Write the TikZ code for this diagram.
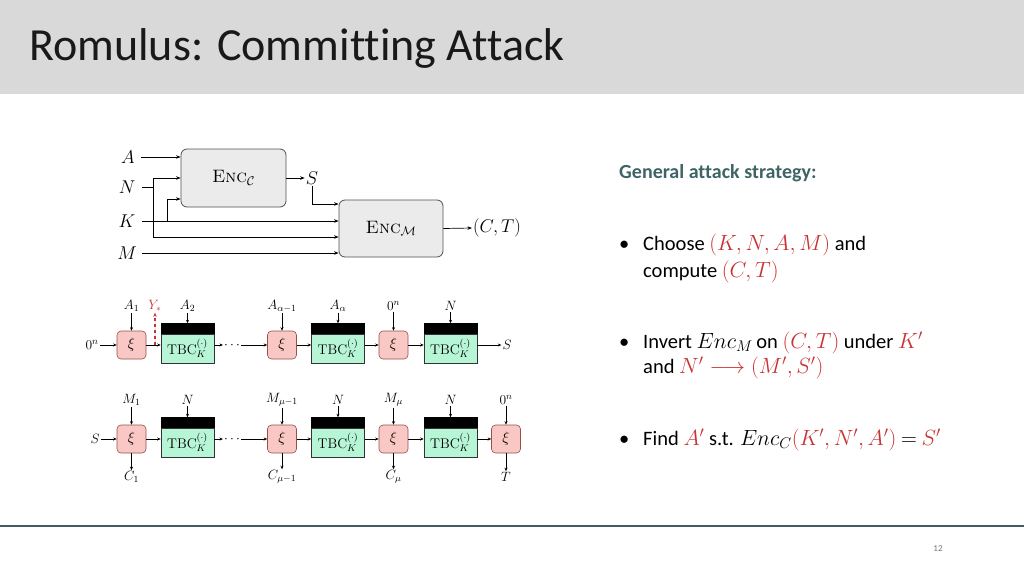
\RequirePackage{fix-cm}
\documentclass[tikz,border=0pt]{standalone}
\usepackage{fontspec}
\newfontfamily\calfont[Ligatures=NoCommon]{Carlito}
\usetikzlibrary{arrows.meta}
\definecolor{titlebg}{RGB}{217,217,217}
\definecolor{encfill}{RGB}{235,235,235}
\definecolor{encdraw}{RGB}{80,80,80}
\definecolor{xifill}{RGB}{249,200,196}
\definecolor{xidraw}{RGB}{150,80,80}
\definecolor{tbcfill}{RGB}{182,245,214}
\definecolor{headc}{RGB}{62,100,102}
\definecolor{mred}{RGB}{200,50,50}
\definecolor{footc}{RGB}{70,90,100}
\newcommand\mm[1]{{\fontsize{22}{24}\selectfont\smash{$#1$}}}
\begin{document}
\begin{tikzpicture}[x=1pt,y=-1pt,
  arr/.style={-{Stealth[length=4.5pt,width=3.5pt]},line width=0.7pt},
  carr/.style={-{Stealth[length=3.5pt,width=3pt]},line width=0.6pt},
  enc/.style={draw=encdraw,fill=encfill,rounded corners=6pt,minimum width=105pt,minimum height=58pt,line width=0.8pt,inner sep=0pt,font=\fontsize{18}{20}\selectfont},
  biglab/.style={font=\fontsize{18.5}{20}\selectfont,inner sep=1pt},
  xi/.style={draw=xidraw,fill=xifill,rounded corners=4pt,minimum width=29pt,minimum height=28pt,inner sep=0pt,line width=0.6pt,font=\fontsize{15}{18}\selectfont},
  tbc/.style={draw=black!80,fill=tbcfill,minimum width=53pt,minimum height=29pt,inner sep=0pt,line width=0.6pt,font=\fontsize{14}{17}\selectfont},
  band/.style={draw=black,fill=black,minimum width=53pt,minimum height=10pt,inner sep=0pt,anchor=south},
  clab/.style={font=\fontsize{13.5}{16}\selectfont,inner sep=1pt},
  slide/.style={font=\calfont\fontsize{20.5}{24}\selectfont,anchor=base west,inner sep=0pt}
]
\useasboundingbox (0,0) rectangle (1024,576);
% title bar
\fill[titlebg] (0,0) rectangle (1024,94);
\node[font=\calfont\fontsize{46}{50}\selectfont,anchor=base west,inner sep=0pt,text=black!90] (title) at (29,60) {Romulus: Committing Attack};
% footer
\draw[footc,line width=2.5pt] (0,526) -- (1024,526);
\node[font=\calfont\fontsize{9}{10}\selectfont,text=black!55] (pnum) at (938,549) {12};

% ---------------- top diagram ----------------
\node[enc] (encC) at (233.5,178) {\textsc{Enc}$_{\mathcal{C}}$};
\node[enc,minimum width=104pt,minimum height=57pt] (encM) at (391,228.5) {\textsc{Enc}$_{\mathcal{M}}$};
\node[biglab] (A) at (128,157) {$A$};
\node[biglab] (N) at (127,187) {$N$};
\node[biglab] (K) at (127,221) {$K$};
\node[biglab] (M) at (127,253) {$M$};
\node[biglab] (S) at (312,178) {$S$};
\node[biglab] (CT) at (497,228) {$(C,T)$};
\coordinate (nb) at (153,187);
\coordinate (ntop) at (153,178);
\coordinate (nbot) at (153,237);
\coordinate (kb) at (167,221);
\coordinate (ktop) at (167,199);
\coordinate (sd) at (312,204);
\coordinate (a0) at (141,157);
\coordinate (n0) at (142,187);
\coordinate (k0) at (142,221);
\coordinate (m0) at (142,253);
\draw[arr] (a0) -- (a0 -| encC.west);
\draw[line width=0.7pt] (n0) -- (nb);
\draw[line width=0.7pt] (ntop) -- (nbot);
\draw[arr] (ntop) -- (ntop -| encC.west);
\draw[arr] (nbot) -- (nbot -| encM.west);
\draw[arr] (k0) -- (k0 -| encM.west);
\draw[arr] (kb) -- (ktop) -- (ktop -| encC.west);
\draw[arr] (m0) -- (m0 -| encM.west);
\draw[arr] (encC.east) -- (S.west);
\draw[arr] (S.south) -- (sd) -- (sd -| encM.west);
\draw[arr] (encM.east) -- (CT.west);

% ---------------- chain row 1 ----------------
\node[clab] (in1) at (92,345) {$0^n$};
\node[xi] (x11) at (131.5,345) {$\xi$};
\node[tbc] (t11) at (187.5,348.5) {$\mathrm{TBC}_K^{(\cdot)}$};
\node[band] (b11) at (t11.north) {};
\node[clab] (d1) at (232,345) {$\cdots$};
\node[xi] (x12) at (282,345) {$\xi$};
\node[tbc] (t12) at (338,348.5) {$\mathrm{TBC}_K^{(\cdot)}$};
\node[band] (b12) at (t12.north) {};
\node[xi] (x13) at (393.5,345) {$\xi$};
\node[tbc] (t13) at (450.5,348.5) {$\mathrm{TBC}_K^{(\cdot)}$};
\node[band] (b13) at (t13.north) {};
\node[clab] (out1) at (507,345) {$S$};
\node[clab] (la1) at (131.5,306) {$A_1$};
\node[clab,text=mred] (ys) at (155,306) {$Y_*$};
\node[clab] (la2) at (187.5,306) {$A_2$};
\node[clab] (la3) at (282,306) {$A_{\alpha-1}$};
\node[clab] (la4) at (338,306) {$A_{\alpha}$};
\node[clab] (la5) at (393.5,306) {$0^n$};
\node[clab] (la6) at (450.5,306) {$N$};
\coordinate (yst) at (155,345);
\draw[carr] (in1) -- (x11);
\draw[carr] (x11.east) -- (x11.east -| t11.west);
\draw[carr] (t11.east |- x11.east) -- (d1.west);
\draw[carr] (d1.east) -- (x12.west);
\draw[carr] (x12.east) -- (x12.east -| t12.west);
\draw[carr] (t12.east |- x12.east) -- (x13.west);
\draw[carr] (x13.east) -- (x13.east -| t13.west);
\draw[carr] (t13.east |- x13.east) -- (out1.west);
\draw[carr] (la1) -- (x11);
\draw[carr] (la2) -- (b11.north);
\draw[carr] (la3) -- (x12);
\draw[carr] (la4) -- (b12.north);
\draw[carr] (la5) -- (x13);
\draw[carr] (la6) -- (b13.north);
\draw[-{Stealth[length=4pt,width=3.5pt]},draw=mred,fill=mred,dashed,line width=1.2pt] (yst) -- (ys.south);

% ---------------- chain row 2 ----------------
\node[clab] (in2) at (95,439) {$S$};
\node[xi] (x21) at (131.5,439) {$\xi$};
\node[tbc] (t21) at (187.5,442.5) {$\mathrm{TBC}_K^{(\cdot)}$};
\node[band] (b21) at (t21.north) {};
\node[clab] (d2) at (232,439) {$\cdots$};
\node[xi] (x22) at (282,439) {$\xi$};
\node[tbc] (t22) at (338,442.5) {$\mathrm{TBC}_K^{(\cdot)}$};
\node[band] (b22) at (t22.north) {};
\node[xi] (x23) at (393.5,439) {$\xi$};
\node[tbc] (t23) at (450.5,442.5) {$\mathrm{TBC}_K^{(\cdot)}$};
\node[band] (b23) at (t23.north) {};
\node[xi] (x24) at (506,439) {$\xi$};
\node[clab] (lm1) at (131.5,400) {$M_1$};
\node[clab] (lm2) at (187.5,400) {$N$};
\node[clab] (lm3) at (282,400) {$M_{\mu-1}$};
\node[clab] (lm4) at (338,400) {$N$};
\node[clab] (lm5) at (393.5,400) {$M_{\mu}$};
\node[clab] (lm6) at (450.5,400) {$N$};
\node[clab] (lm7) at (506,400) {$0^n$};
\node[clab] (lc1) at (131.5,477) {$C_1$};
\node[clab] (lc2) at (282,477) {$C_{\mu-1}$};
\node[clab] (lc3) at (393.5,477) {$C_{\mu}$};
\node[clab] (lc4) at (506,477) {$T$};
\draw[carr] (in2) -- (x21);
\draw[carr] (x21.east) -- (x21.east -| t21.west);
\draw[carr] (t21.east |- x21.east) -- (d2.west);
\draw[carr] (d2.east) -- (x22.west);
\draw[carr] (x22.east) -- (x22.east -| t22.west);
\draw[carr] (t22.east |- x22.east) -- (x23.west);
\draw[carr] (x23.east) -- (x23.east -| t23.west);
\draw[carr] (t23.east |- x23.east) -- (x24.west);
\draw[carr] (lm1) -- (x21);
\draw[carr] (lm2) -- (b21.north);
\draw[carr] (lm3) -- (x22);
\draw[carr] (lm4) -- (b22.north);
\draw[carr] (lm5) -- (x23);
\draw[carr] (lm6) -- (b23.north);
\draw[carr] (lm7) -- (x24);
\draw[carr] (x21) -- (lc1);
\draw[carr] (x22) -- (lc2);
\draw[carr] (x23) -- (lc3);
\draw[carr] (x24) -- (lc4);

% ---------------- slide text ----------------
\node[slide,font=\calfont\bfseries\fontsize{20}{24}\selectfont,text=headc] (head) at (619,178) {General attack strategy:};
\node[slide] (bu1) at (619,250) {\textbullet};
\node[slide] (t1a) at (643,250) {Choose \textcolor{mred}{\mm{(K,N,A,M)}} and};
\node[slide] (t1b) at (643,277) {compute \textcolor{mred}{\mm{(C,T)}}};
\node[slide] (bu2) at (619,348) {\textbullet};
\node[slide] (t2a) at (643,348) {Invert \mm{Enc_M\,}on \textcolor{mred}{\mm{(C,T)}} under \textcolor{mred}{\mm{K'}}};
\node[slide] (t2b) at (643,373) {and \textcolor{mred}{\mm{N'\longrightarrow(M',S')}}};
\node[slide] (bu3) at (619,445) {\textbullet};
\node[slide] (t3a) at (643,445) {Find \textcolor{mred}{\mm{A'}} s.t. \mm{Enc_C}\textcolor{mred}{\mm{(K',N',A')}} \mm{=} \textcolor{mred}{\mm{S'}}};
\end{tikzpicture}
\end{document}
